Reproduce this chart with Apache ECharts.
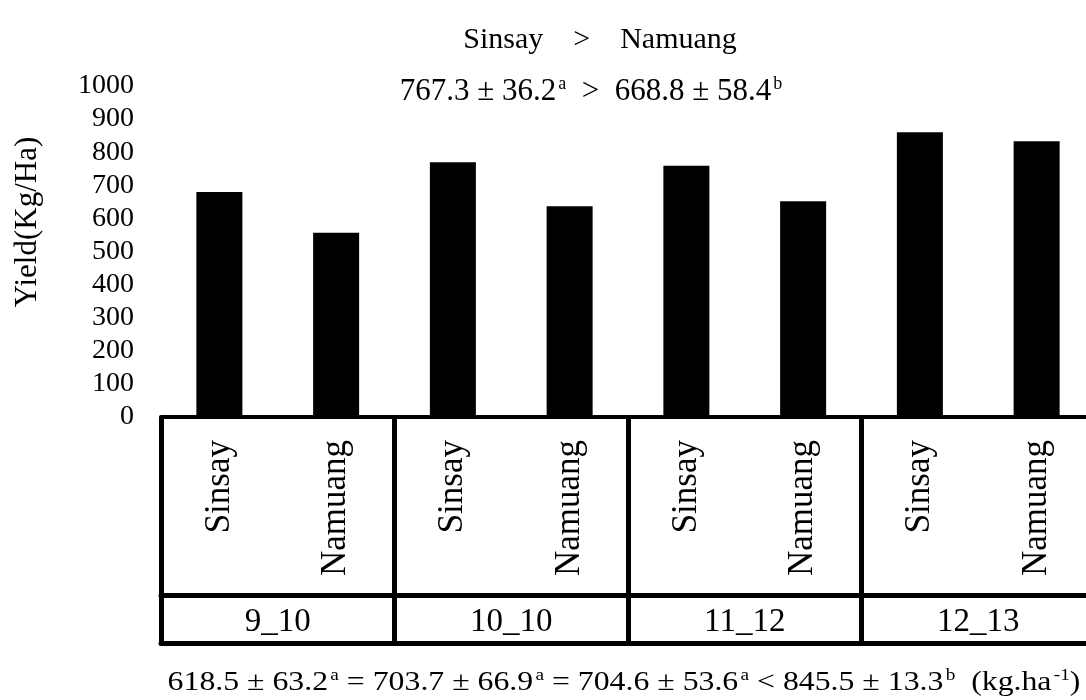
<!DOCTYPE html>
<html>
<head>
<meta charset="utf-8">
<script src="https://cdn.jsdelivr.net/npm/echarts@6/dist/echarts.min.js"></script>
<style>
  html, body { margin: 0; padding: 0; background: #fff; }
  #chart { width: 1086px; height: 700px; }
</style>
</head>
<body>
<div id="chart"></div>
<script>
// Rice yield by variety and season
const varieties = ['Sinsay', 'Namuang', 'Sinsay', 'Namuang', 'Sinsay', 'Namuang', 'Sinsay', 'Namuang'];
const seasons = ['9_10', '10_10', '11_12', '12_13'];
const yieldValues = [680, 557, 770, 637, 759, 652, 860, 833];
const yTicks = { min: 0, max: 1000, step: 100 };

const FONT = '"Liberation Serif", "DejaVu Serif", serif';
const chart = echarts.init(document.getElementById('chart'), null, { renderer: 'canvas' });

const sup = { fontSize: 18, fontFamily: FONT, color: '#000', verticalAlign: 'top', padding: [0, 0, 0, 2] };

chart.setOption({
  backgroundColor: '#fff',
  animation: false,
  grid: { left: 161, top: 86, height: 331, width: 934, containLabel: false, outerBoundsMode: 'none' },
  xAxis: [
    {
      type: 'category',
      data: varieties,
      position: 'bottom',
      axisLine: { show: true, onZero: false, lineStyle: { color: '#000', width: 4 } },
      axisTick: { show: false },
      axisLabel: {
        rotate: 90, interval: 0, margin: 23,
        fontFamily: FONT, fontSize: 35, color: '#000'
      },
      splitLine: { show: false }
    },
    {
      // season row: horizontal rule between variety and season cells
      type: 'category',
      data: seasons,
      position: 'bottom',
      offset: 178,
      axisLine: { show: true, onZero: false, lineStyle: { color: '#000', width: 5 } },
      axisTick: { show: false },
      axisLabel: { interval: 0, margin: 11, fontFamily: FONT, fontSize: 33, color: '#000' },
      splitLine: { show: false }
    },
    {
      // bottom rule with vertical cell dividers
      type: 'category',
      data: seasons,
      position: 'bottom',
      offset: 226,
      axisLine: { show: true, onZero: false, lineStyle: { color: '#000', width: 5 } },
      axisTick: { show: true, inside: true, length: 226, interval: 0, lineStyle: { color: '#000', width: 5 } },
      axisLabel: { show: false },
      splitLine: { show: false }
    }
  ],
  yAxis: {
    type: 'value',
    min: yTicks.min, max: yTicks.max, interval: yTicks.step,
    axisLine: { show: false },
    axisTick: { show: false },
    splitLine: { show: false },
    axisLabel: {
      margin: 27, fontFamily: FONT, fontSize: 28, color: '#000',
      formatter: function (v) { return String(v); }
    }
  },
  series: [{
    type: 'bar',
    xAxisIndex: 0,
    data: yieldValues,
    barWidth: 46,
    itemStyle: { color: '#000' },
    z: 1
  }],
  graphic: [
    {
      // y-axis title
      type: 'text', x: 28, y: 222, rotation: Math.PI / 2,
      style: {
        text: 'Yield(Kg/Ha)',
        fontFamily: FONT, fontSize: 31, fill: '#000',
        align: 'center', verticalAlign: 'middle'
      }
    },
    {
      type: 'text', x: 600, y: 40,
      style: {
        text: 'Sinsay    >    Namuang',
        fontFamily: FONT, fontSize: 30, fill: '#000',
        align: 'center', verticalAlign: 'middle'
      }
    },
    {
      type: 'text', x: 591, y: 92,
      style: {
        text: '{n|767.3 ± 36.2}{s|a}{n|  >  668.8 ± 58.4}{s|b}',
        align: 'center', verticalAlign: 'middle',
        rich: {
          n: { fontFamily: FONT, fontSize: 31, color: '#000', lineHeight: 34 },
          s: sup
        }
      }
    },
    {
      type: 'text', x: 624, y: 683, scaleX: 1.135,
      style: {
        text: '{n|618.5 ± 63.2}{s|a}{n| = 703.7 ± 66.9}{s|a}{n| = 704.6 ± 53.6}{s|a}{n| < 845.5 ± 13.3}{s|b}{n|  (kg.ha}{s|-1}{n|)}',
        align: 'center', verticalAlign: 'middle',
        rich: {
          n: { fontFamily: FONT, fontSize: 28, color: '#000', lineHeight: 32 },
          s: { fontSize: 17, fontFamily: FONT, color: '#000', verticalAlign: 'top', padding: [0, 0, 0, 2] }
        }
      }
    }
  ]
});
</script>
</body>
</html>
